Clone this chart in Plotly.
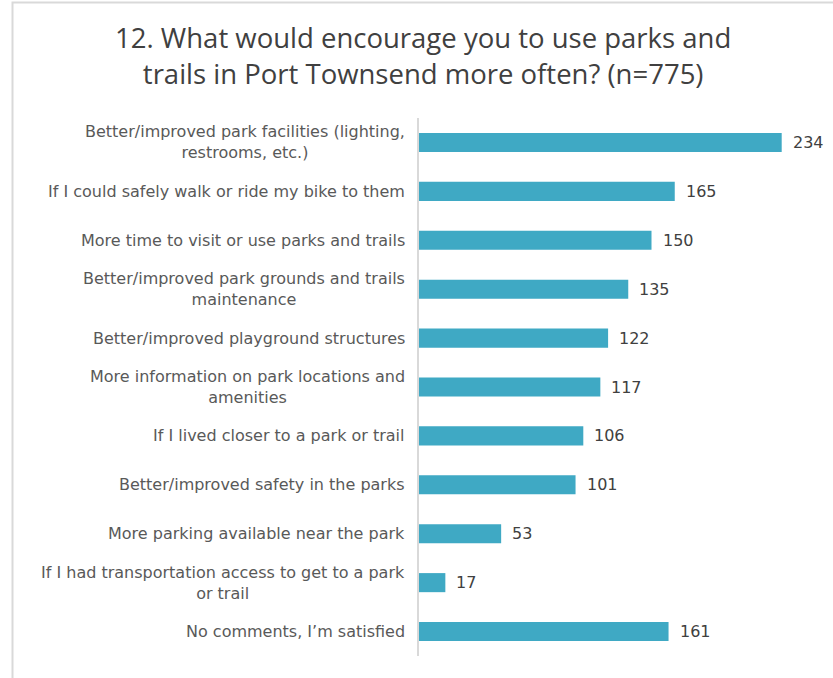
import plotly.graph_objects as go

categories = [
    "Better/improved park facilities (lighting,<br>restrooms, etc.)",
    "If I could safely walk or ride my bike to them",
    "More time to visit or use parks and trails",
    "Better/improved park grounds and trails<br>maintenance",
    "Better/improved playground structures",
    "More information on park locations and<br>amenities",
    "If I lived closer to a park or trail",
    "Better/improved safety in the parks",
    "More parking available near the park",
    "If I had transportation access to get to a park<br>or trail",
    "No comments, I’m satisfied",
]
values = [234, 165, 150, 135, 122, 117, 106, 101, 53, 17, 161]
title_text = "12. What would encourage you to use parks and<br>trails in Port Townsend more often? (n=775)"

BAR = "#3FA9C4"
FONT = "DejaVu Sans"

W, H = 833, 678
ml, mr, mt, mb = 419, 11, 118, 22

fig = go.Figure(go.Bar(
    x=values, y=list(range(len(categories))), orientation="h",
    marker=dict(color=BAR, line=dict(width=0)),
    width=0.39, hoverinfo="skip",
))

annotations = []
for i, (c, v) in enumerate(zip(categories, values)):
    annotations.append(dict(x=0, xref="paper", y=i, yref="y", text=c, showarrow=False,
                            xanchor="right", xshift=-12, align="center",
                            font=dict(family=FONT, size=16, color="#595959")))
    annotations.append(dict(x=v, xref="x", y=i, yref="y", text=str(v), showarrow=False,
                            xanchor="left", xshift=9,
                            font=dict(family=FONT, size=16, color="#404040")))

fig.update_layout(
    width=W, height=H,
    margin=dict(l=ml, r=mr, t=mt, b=mb),
    paper_bgcolor="white", plot_bgcolor="white",
    showlegend=False,
    title=dict(text=title_text, x=0.508, xanchor="center", y=0.929, yanchor="top",
               font=dict(family="Open Sans", size=27.5, color="#404040")),
    xaxis=dict(range=[0, 260], showgrid=False, zeroline=False, showticklabels=False,
               showline=False, fixedrange=True),
    yaxis=dict(range=[10.5, -0.5], showgrid=False, zeroline=False, showticklabels=False,
               showline=True, linecolor="#D9D9D9", linewidth=1.5, ticks="", fixedrange=True),
    annotations=annotations,
    shapes=[dict(type="rect", xref="paper", yref="paper",
                 x0=(12.5 - ml) / (W - ml - mr), x1=(W + 10 - ml) / (W - ml - mr),
                 y0=-(mb + 10) / (H - mt - mb), y1=(H - 2.5 - mb) / (H - mt - mb),
                 line=dict(color="#D9D9D9", width=2), fillcolor="rgba(0,0,0,0)", layer="below")],
)

fig.write_html("out.html", config={"displayModeBar": False},
               post_script="document.body.style.margin='0';document.body.style.overflow='hidden';")
